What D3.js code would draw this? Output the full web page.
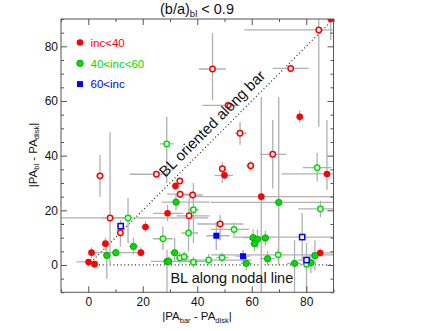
<!DOCTYPE html>
<html><head><meta charset="utf-8">
<script src="https://cdn.jsdelivr.net/npm/d3@7"></script>
<style>
html,body{margin:0;padding:0;background:#fff;}
text{font-family:"Liberation Sans",Arial,Helvetica,sans-serif;}
</style></head>
<body><svg id="c" width="441" height="331"></svg>
<script>
// each point: [x, y, xLow, xHigh, yLow, yHigh]
const redFilled = [
 [89.0,90.0,88,90,82.3,90],[77.6,54.2,76.5,78.7,52,56.5],[50.0,32.8,46.4,53.1,31.5,34],
 [87.6,33.3,71,90,27.4,53],[63.5,25.0,37.2,90,-10,61.5],[32.0,28.9,31,33,27.5,30.3],
 [29.1,18.9,23.8,34.8,16,22],[21.0,13.9,19.5,22.5,12,16],[6.3,7.8,5,7.6,5.5,10],
 [1.2,4.5,0,2.5,2.5,6.5],[19.3,4.5,17.5,21,3,6.5],[0.1,1.1,-4.3,3.5,0,2.2],
 [2.3,0.3,1,3.6,-1,1.6],[85.1,4.4,82,90,3,6]
];
const redOpen = [
 [84.6,86.0,57.3,90,50.5,90],[45.6,71.7,40.6,50.5,60.4,84.9],[74.3,71.9,67.7,80.9,70.5,73.3],
 [51.3,58.4,41.9,55.6,57,60],[55.7,48.2,53.8,58,43.9,52.4],[67.7,40.5,63,72.7,28,53],
 [59.6,36.3,58,61,34.5,38],[49.2,35.2,48,50.5,30,37.8],[4.3,32.6,3,5.6,25,40.2],
 [25.0,33.2,15.2,27.3,32,34.5],[33.6,30.7,32.5,34.8,29.5,32],[33.7,25.9,29,38.5,24.5,27.3],
 [38.3,25.6,34.5,42,24.3,27],[37.0,18.0,32.4,44.6,12,24.5],[8.0,17.2,-10,14,0,48.6],
 [11.8,11.8,10.5,13,6.7,15.4],[48.4,15.0,40,57,9,18.3]
];
const greenFilled = [
 [32.2,23.0,27,44.6,20,26],[69.9,22.9,45,90,0,61.5],[60.5,10.0,57,64,7,13],
 [62.1,9.4,59,65,6,13],[61.0,7.8,59.5,62.5,5,11],[65.0,9.9,63,67,7,12.5],
 [83.2,3.4,81,85.5,-2,9],[16.6,6.8,15,18.2,4,10],[10.1,4.5,1.6,19,3,6],
 [6.8,3.5,5.5,8,-5,8],[31.7,4.5,30,33.5,1,10],[28.9,1.3,23,45,-10,5.5],
 [29.5,1.3,28,31,0,3],[58.0,0.6,56,60,-2,3],[65.8,2.3,63,68.5,0,5],
 [75.7,0.6,73,78,-10,9],[81.7,0.8,80,83.5,-3,4]
];
const greenOpen = [
 [28.8,44.3,26.3,31.3,30,54.2],[84.0,35.6,78.7,89.3,30.5,41],[85.2,20.5,77,90,17.5,23.5],
 [38.6,20.2,36.5,40.5,8,30],[14.6,17.2,5,44,8,24.5],[53.5,13.0,45,59,10.5,15.5],
 [36.8,11.7,34.2,40.3,5,18],[27.4,9.6,23.8,31,5.5,14],[44.2,1.8,33,60,0,4],
 [49.1,2.7,47,51.5,1,4.5],[69.7,3.7,45,90,1.5,6],[80.1,0.3,78.5,82,-2,2.5],
 [33.6,2.6,32,35,0.5,4.5],[35.2,3.0,33.5,37,1,5],[38.6,1.0,37,40,-1,3]
];
const blueFilled = [[47.0,10.7,43.4,51.9,5.5,15.8],[56.8,3.2,54,59.5,1,5.5]];
const blueOpen = [[11.9,14.2,10.5,13.3,10,16.5],[78.5,10.2,53,90,2,19],[80.1,1.8,77,82.5,-10,8]];

const legendLabels = ["inc<40","40<inc<60","60<inc"];
const xMajorTicks = [0,20,40,60,80];
const xMinorTicks = [-10,10,30,50,70,90];
const yMajorTicks = [0,20,40,60,80];
const yMinorTicks = [-10,-5,5,10,15,25,30,35,45,50,55,65,70,75,85,90];
const domain = [-10,90];

const RED="#ff0000", GREEN="#00dd00", BLUE="#0000ff";
const svg = d3.select("#c");
const L=61, R=333.5, T=19, B=292.3;
const x = d3.scaleLinear().domain(domain).range([L,R]);
const y = d3.scaleLinear().domain(domain).range([B,T]);

svg.append("clipPath").attr("id","clip").append("rect")
  .attr("x",L).attr("y",T).attr("width",R-L).attr("height",B-T);
const plot = svg.append("g").attr("clip-path","url(#clip)");

// reference lines
plot.append("line").attr("x1",x(0)).attr("y1",y(0)).attr("x2",x(90)).attr("y2",y(90))
  .attr("stroke","#222").attr("stroke-width",1.2).attr("stroke-dasharray","1,2.6");
plot.append("line").attr("x1",x(0)).attr("y1",y(0)).attr("x2",x(90)).attr("y2",y(0))
  .attr("stroke","#222").attr("stroke-width",1.2).attr("stroke-dasharray","1,2.6");

const all = [redFilled,redOpen,greenFilled,greenOpen,blueFilled,blueOpen];
const eb = plot.append("g").attr("stroke","#b0b0b0").attr("stroke-width",1.3);
all.forEach(s=>s.forEach(d=>{
  eb.append("line").attr("x1",x(d[2])).attr("x2",x(d[3])).attr("y1",y(d[1])).attr("y2",y(d[1]));
  eb.append("line").attr("x1",x(d[0])).attr("x2",x(d[0])).attr("y1",y(d[4])).attr("y2",y(d[5]));
}));

function circles(data, fill, stroke, sw, r){
  plot.append("g").selectAll("circle").data(data).join("circle")
    .attr("cx",d=>x(d[0])).attr("cy",d=>y(d[1])).attr("r",r)
    .attr("fill",fill).attr("stroke",stroke).attr("stroke-width",sw);
}
function squares(data, fill, stroke, sw, s){
  plot.append("g").selectAll("rect").data(data).join("rect")
    .attr("x",d=>x(d[0])-s/2).attr("y",d=>y(d[1])-s/2).attr("width",s).attr("height",s)
    .attr("fill",fill).attr("stroke",stroke).attr("stroke-width",sw);
}
circles(redOpen,"#fff",RED,1.5,2.7);
circles(redFilled,RED,"none",0,3.3);
circles(greenOpen,"#fff",GREEN,1.5,2.7);
circles(greenFilled,GREEN,"#009000",0.7,3.2);
squares(blueOpen,"#fff",BLUE,1.5,5.2);
squares(blueFilled,BLUE,"none",0,6);

// annotations
const v = 48.6;
svg.append("text").attr("transform",`translate(${x(v)-5},${y(v)-5}) rotate(-45)`)
  .attr("text-anchor","middle").attr("font-size",15).attr("fill","#111").text("BL oriented along bar");
svg.append("text").attr("x",x(52.7)).attr("y",283).attr("text-anchor","middle")
  .attr("font-size",14.5).attr("fill","#111").text("BL along nodal line");

// axes
const ax = svg.append("g").attr("font-size",12);
function styleAx(g){ g.select(".domain").remove(); g.selectAll("line").attr("stroke","#555"); g.selectAll("text").attr("fill","#111").style("font-size","12px"); }
ax.append("g").attr("transform",`translate(0,${B})`).call(d3.axisBottom(x).tickValues(xMajorTicks).tickSizeInner(-6).tickSizeOuter(0).tickPadding(5)).call(styleAx);
ax.append("g").attr("transform",`translate(0,${B})`).call(d3.axisBottom(x).tickValues(xMinorTicks).tickSizeInner(-3).tickSizeOuter(0).tickFormat("")).call(styleAx);
ax.append("g").attr("transform",`translate(0,${T})`).call(d3.axisTop(x).tickValues(xMajorTicks).tickSizeInner(-6).tickSizeOuter(0).tickFormat("")).call(styleAx);
ax.append("g").attr("transform",`translate(0,${T})`).call(d3.axisTop(x).tickValues(xMinorTicks).tickSizeInner(-3).tickSizeOuter(0).tickFormat("")).call(styleAx);
ax.append("g").attr("transform",`translate(${L},0)`).call(d3.axisLeft(y).tickValues(yMajorTicks).tickSizeInner(-6).tickSizeOuter(0).tickPadding(3)).call(styleAx);
ax.append("g").attr("transform",`translate(${L},0)`).call(d3.axisLeft(y).tickValues(yMinorTicks).tickSizeInner(-3).tickSizeOuter(0).tickFormat("")).call(styleAx);
ax.append("g").attr("transform",`translate(${R},0)`).call(d3.axisRight(y).tickValues(yMajorTicks).tickSizeInner(-6).tickSizeOuter(0).tickFormat("")).call(styleAx);
ax.append("g").attr("transform",`translate(${R},0)`).call(d3.axisRight(y).tickValues(yMinorTicks).tickSizeInner(-3).tickSizeOuter(0).tickFormat("")).call(styleAx);
svg.append("rect").attr("x",L).attr("y",T).attr("width",R-L).attr("height",B-T)
  .attr("fill","none").attr("stroke","#555").attr("stroke-width",1);

// title
const t = svg.append("text").attr("x",197).attr("y",14).attr("text-anchor","middle").attr("font-size",14.5).attr("fill","#111");
t.append("tspan").text("(b/a)");
t.append("tspan").attr("font-size",9.5).attr("dy",3).text("bl");
t.append("tspan").attr("dy",-3).text(" < 0.9");

// x label
const xl = svg.append("text").attr("x",197).attr("y",320).attr("text-anchor","middle").attr("font-size",11.5).attr("fill","#111");
xl.append("tspan").text("|PA");
xl.append("tspan").attr("font-size",7.5).attr("dy",2.5).text("bar");
xl.append("tspan").attr("dy",-2.5).text(" - PA");
xl.append("tspan").attr("font-size",7.5).attr("dy",2.5).text("disk");
xl.append("tspan").attr("dy",-2.5).text("|");

// y label
const yl = svg.append("text").attr("transform","translate(36.5,155) rotate(-90)").attr("text-anchor","middle").attr("font-size",11.5).attr("fill","#111");
yl.append("tspan").text("|PA");
yl.append("tspan").attr("font-size",7.5).attr("dy",2.5).text("bl");
yl.append("tspan").attr("dy",-2.5).text(" - PA");
yl.append("tspan").attr("font-size",7.5).attr("dy",2.5).text("disk");
yl.append("tspan").attr("dy",-2.5).text("|");

// legend
const lg = svg.append("g");
const legendColors = [RED,GREEN,BLUE];
legendLabels.forEach((lab,i)=>{
  const cy = 42.5 + i*20.8;
  if(i<2) lg.append("circle").attr("cx",80).attr("cy",cy).attr("r",3.3).attr("fill",legendColors[i])
      .attr("stroke",i===1?"#009000":"none").attr("stroke-width",0.7);
  else lg.append("rect").attr("x",77).attr("y",cy-3).attr("width",6).attr("height",6).attr("fill",BLUE);
  lg.append("text").attr("x",90.5).attr("y",cy+4.2).attr("font-size",11.5).attr("fill",legendColors[i]).text(lab);
});
</script></body></html>
